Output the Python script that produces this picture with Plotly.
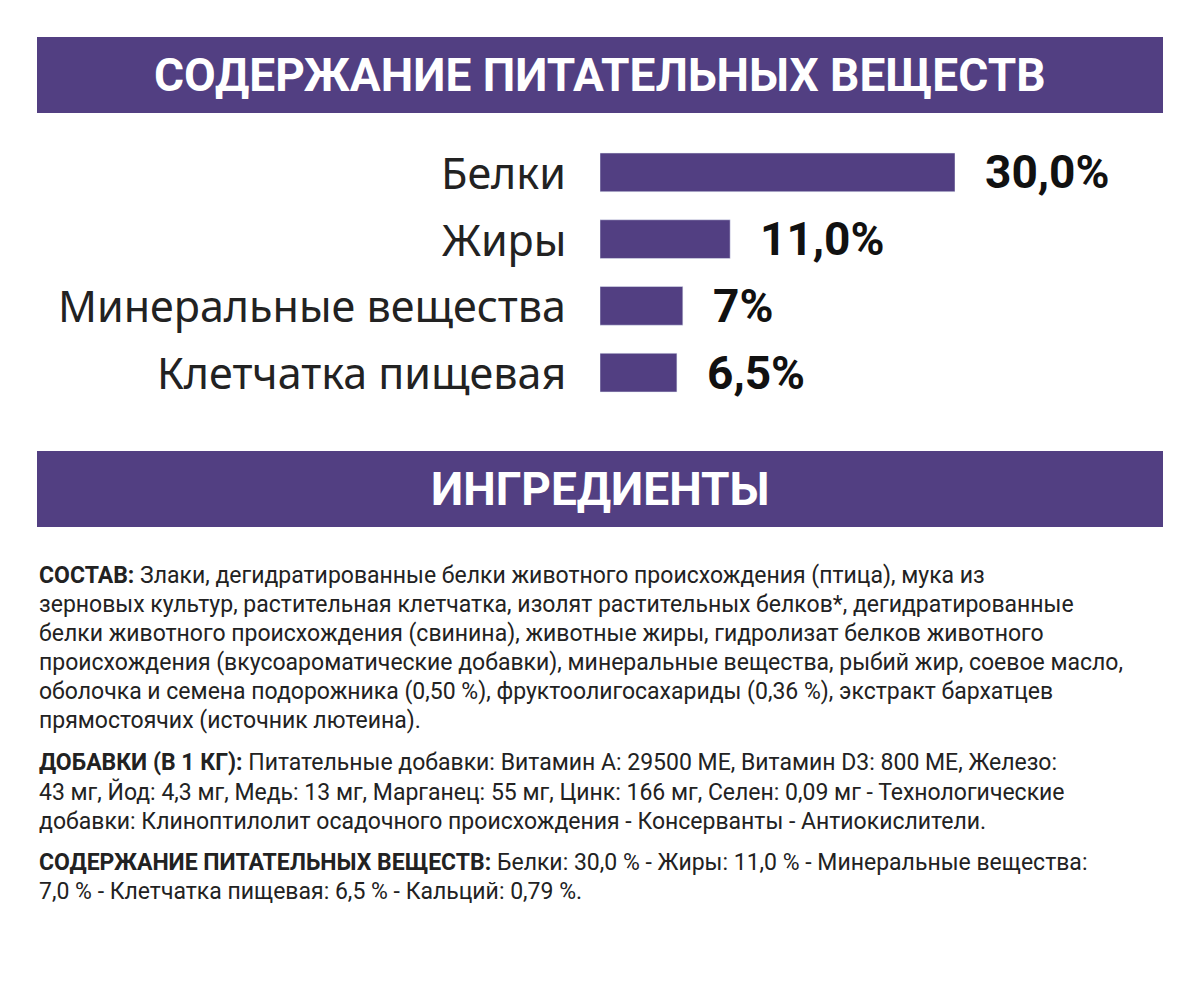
import plotly.graph_objects as go

categories = ["Белки", "Жиры", "Минеральные вещества", "Клетчатка пищевая"]
values = [30.0, 11.0, 7.0, 6.5]
value_labels = ["30,0%", "11,0%", "7%", "6,5%"]
header1 = "СОДЕРЖАНИЕ ПИТАТЕЛЬНЫХ ВЕЩЕСТВ"
header2 = "ИНГРЕДИЕНТЫ"
text_lines = [
    "<b>СОСТАВ:</b> Злаки, дегидратированные белки животного происхождения (птица), мука из",
    "зерновых культур, растительная клетчатка, изолят растительных белков*, дегидратированные",
    "белки животного происхождения (свинина), животные жиры, гидролизат белков животного",
    "происхождения (вкусоароматические добавки), минеральные вещества, рыбий жир, соевое масло,",
    "оболочка и семена подорожника (0,50 %), фруктоолигосахариды (0,36 %), экстракт бархатцев",
    "прямостоячих (источник лютеина).",
    "<b>ДОБАВКИ (В 1 КГ):</b> Питательные добавки: Витамин А: 29500 МЕ, Витамин D3: 800 МЕ, Железо:",
    "43 мг, Йод: 4,3 мг, Медь: 13 мг, Марганец: 55 мг, Цинк: 166 мг, Селен: 0,09 мг - Технологические",
    "добавки: Клиноптилолит осадочного происхождения - Консерванты - Антиокислители.",
    "<b>СОДЕРЖАНИЕ ПИТАТЕЛЬНЫХ ВЕЩЕСТВ:</b> Белки: 30,0 % - Жиры: 11,0 % - Минеральные вещества:",
    "7,0 % - Клетчатка пищевая: 6,5 % - Кальций: 0,79 %.",
]
line_y = [575, 604, 633, 662, 691, 720, 762, 792, 821, 862, 891]

PURPLE = "#523f82"
OFF = 8  # page body margin
W, H = 1192, 992

def px(x):
    return (x - OFF) / W

def py(y):
    return 1 - (y - OFF) / H

fig = go.Figure(go.Bar(x=values, y=categories, orientation="h", marker_color=PURPLE,
                       hoverinfo="skip"))
fig.update_layout(
    width=W, height=H, autosize=False, margin=dict(l=0, r=0, t=0, b=0),
    paper_bgcolor="white", plot_bgcolor="rgba(0,0,0,0)", showlegend=False, bargap=0.42,
    xaxis=dict(domain=[px(600), px(955)], range=[0, 30], visible=False),
    yaxis=dict(domain=[py(406), py(139)], autorange="reversed", visible=False),
)
anns = []
for c, v, lab in zip(categories, values, value_labels):
    anns.append(dict(xref="paper", yref="y", x=px(568), y=c, text=c, showarrow=False,
                     xanchor="right", font=dict(family="Noto Sans", size=43, color="#222")))
    anns.append(dict(xref="x", yref="y", x=v, y=c, text="<b>" + lab + "</b>", showarrow=False,
                     xanchor="left", xshift=28, font=dict(family="Roboto", size=46, color="#111")))
shapes = []
for (y0, y1, t) in [(37, 113, header1), (451, 527, header2)]:
    shapes.append(dict(type="rect", xref="paper", yref="paper", x0=px(37), x1=px(1163),
                       y0=py(y1), y1=py(y0), fillcolor=PURPLE, line_width=0, layer="below"))
    anns.append(dict(xref="paper", yref="paper", x=px(600), y=py((y0 + y1) / 2),
                     xanchor="center", yanchor="middle", text="<b>" + t + "</b>",
                     showarrow=False, font=dict(family="Roboto", size=46, color="white")))
for t, y in zip(text_lines, line_y):
    anns.append(dict(xref="paper", yref="paper", x=px(37), y=py(y), text=t, showarrow=False,
                     xanchor="left", yanchor="middle",
                     font=dict(family="Liberation Sans Narrow, Roboto", size=23, color="#222")))
fig.update_layout(annotations=anns, shapes=shapes)
fig.write_html("out.html")
